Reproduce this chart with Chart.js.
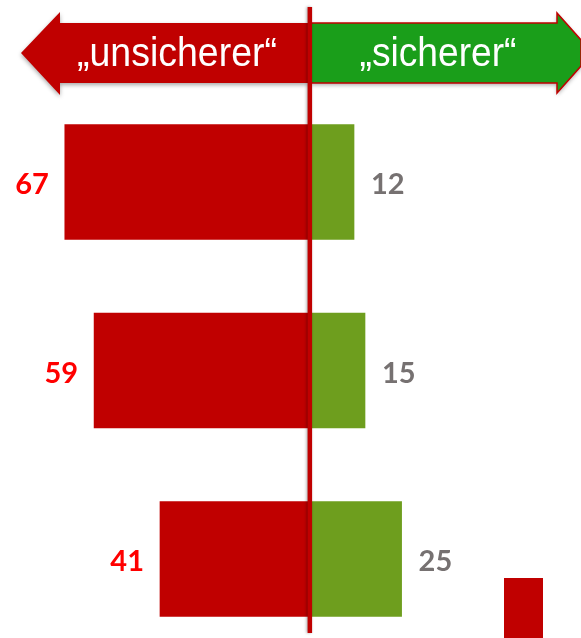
<!DOCTYPE html>
<html lang="de">
<head>
  <meta charset="UTF-8">
  <title>unsicherer / sicherer</title>
  <script src="https://cdn.jsdelivr.net/npm/chart.js"></script>
  <style>
    html, body { margin: 0; padding: 0; background: #ffffff; overflow: hidden; }
    canvas { display: block; }
  </style>
</head>
<body>
  <canvas id="chart" width="581" height="638"></canvas>
  <script>
    // Werte je Gruppe
    const categories = ["Gruppe 1", "Gruppe 2", "Gruppe 3"];
    const unsicherer = [67, 59, 41];
    const sicherer = [12, 15, 25];
    const arrowLabels = ["\u201Eunsicherer\u201C", "\u201Esicherer\u201C"];

    const RED = "#C00000";
    const GREEN_BAR = "#6E9E1E";
    const GREEN_ARROW = "#1A9E1A";

    // Pfeile oben, Mittellinie und Kästchen unten rechts
    const decorPlugin = {
      id: "decor",
      beforeDatasetsDraw(chart) {
        const ctx = chart.ctx;
        const x0 = chart.scales.x.getPixelForValue(0);

        ctx.save();
        ctx.shadowColor = "rgba(0,0,0,0.35)";
        ctx.shadowBlur = 4;
        ctx.shadowOffsetY = 2;

        // linker Pfeil
        ctx.beginPath();
        ctx.moveTo(x0 - 2, 23);
        ctx.lineTo(60, 23);
        ctx.lineTo(60, 12);
        ctx.lineTo(21, 53);
        ctx.lineTo(60, 95);
        ctx.lineTo(60, 83);
        ctx.lineTo(x0 - 2, 83);
        ctx.closePath();
        ctx.fillStyle = RED;
        ctx.fill();

        // rechter Pfeil
        ctx.beginPath();
        ctx.moveTo(x0 + 1, 23);
        ctx.lineTo(557, 23);
        ctx.lineTo(557, 13);
        ctx.lineTo(581, 40);
        ctx.lineTo(581, 66);
        ctx.lineTo(557, 93);
        ctx.lineTo(557, 83);
        ctx.lineTo(x0 + 1, 83);
        ctx.closePath();
        ctx.fillStyle = GREEN_ARROW;
        ctx.fill();
        ctx.shadowColor = "transparent";
        ctx.lineWidth = 1.5;
        ctx.strokeStyle = RED;
        ctx.stroke();

        ctx.fillStyle = "#ffffff";
        ctx.font = "41px 'Liberation Sans', Arial, sans-serif";
        ctx.textAlign = "center";
        ctx.textBaseline = "alphabetic";
        ctx.fillText(arrowLabels[0], 177, 66, 200);
        ctx.fillText(arrowLabels[1], 438, 66, 157);

        // Kästchen unten rechts
        ctx.fillStyle = RED;
        ctx.fillRect(504, 578, 39, 60);
        ctx.restore();
      },
      afterDatasetsDraw(chart) {
        const ctx = chart.ctx;
        const x0 = chart.scales.x.getPixelForValue(0);
        ctx.save();

        // Wertbeschriftungen
        ctx.font = "bold 29px Lato, 'Open Sans', sans-serif";
        ctx.textBaseline = "middle";
        chart.getDatasetMeta(0).data.forEach((bar, i) => {
          ctx.fillStyle = "#FF0000";
          ctx.textAlign = "right";
          ctx.fillText(String(unsicherer[i]), bar.x - 16, bar.y + 3);
        });
        chart.getDatasetMeta(1).data.forEach((bar, i) => {
          ctx.fillStyle = "#767171";
          ctx.textAlign = "left";
          ctx.fillText(String(sicherer[i]), bar.x + 17, bar.y + 3);
        });

        // Mittellinie
        ctx.shadowColor = "rgba(0,0,0,0.35)";
        ctx.shadowBlur = 3;
        ctx.shadowOffsetX = -1;
        ctx.fillStyle = RED;
        ctx.fillRect(x0 - 2.5, 7, 4.5, 626);
        ctx.restore();
      }
    };

    new Chart(document.getElementById("chart"), {
      type: "bar",
      data: {
        labels: categories,
        datasets: [
          {
            label: "unsicherer",
            data: unsicherer.map(v => -v),
            backgroundColor: RED,
            barThickness: 115,
            borderWidth: 0,
            clip: false
          },
          {
            label: "sicherer",
            data: sicherer,
            backgroundColor: GREEN_BAR,
            barThickness: 115,
            borderWidth: 0,
            clip: false
          }
        ]
      },
      options: {
        indexAxis: "y",
        responsive: false,
        animation: false,
        devicePixelRatio: 1,
        layout: { padding: { top: 182, bottom: 79, left: 0, right: 0 } },
        scales: {
          x: { display: false, stacked: true, min: -84.7, max: 74.0 },
          y: { display: false, stacked: true, offset: false }
        },
        plugins: {
          legend: { display: false },
          tooltip: { enabled: false }
        }
      },
      plugins: [decorPlugin]
    });
  </script>
</body>
</html>
